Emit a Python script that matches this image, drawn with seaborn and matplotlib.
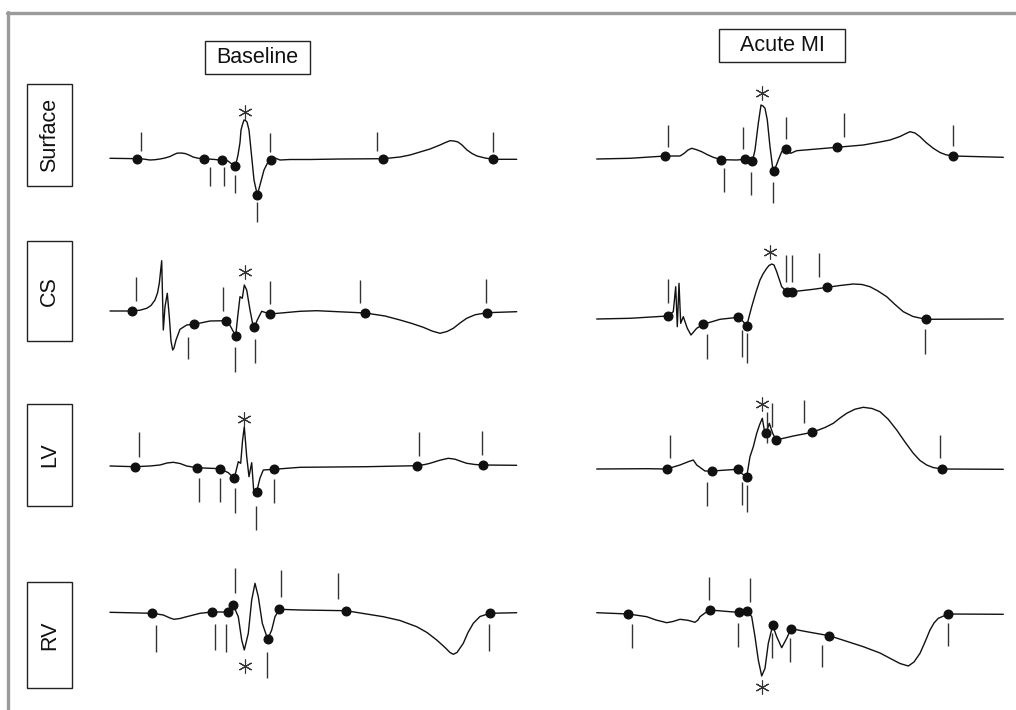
import numpy as np
import pandas as pd
import matplotlib
matplotlib.use("Agg")
import matplotlib.pyplot as plt
import seaborn as sns
from matplotlib.patches import Rectangle
from matplotlib.lines import Line2D

# Column / row labels
conditions = ["Baseline", "Acute MI"]
leads = ["Surface", "CS", "LV", "RV"]

# ---- traces: time and amplitude ----
# Surface, baseline
surf_base_t = [10, 25, 36.7, 43, 50, 55, 60, 65, 70, 74, 77, 81, 85, 89, 93, 98, 104, 115, 122, 128, 134.7,
               136.5, 138, 140, 141, 142.5, 144, 145.5, 147, 149, 151, 154, 157.3, 160, 164, 168, 170.7,
               175, 180, 190, 210, 240, 283.3, 300, 310, 320, 330, 340, 345, 350, 354, 358, 362, 367, 372,
               377, 385, 393.3, 416.7]
surf_base_v = [0.2, 0, -0.2, -0.5, -1.5, -1.2, -0.5, 0.5, 2, 4, 5.3, 5.5, 5, 3.5, 1.5, 0.3, -0.2, -1, -1.8,
               -2.5, -7.8, -3, 3.5, 16, 28.5, 34, 38.5, 38, 36.5, 28.5, 8.5, -21.5, -36.5, -26.5, -11.5,
               -3.5, -1.5, 0.5, -1.5, -1, -1, -0.5, -0.2, 1.5, 3.5, 6.5, 9.5, 13.5, 15.8, 17.8, 17.5, 16.5,
               13.5, 8.5, 5, 2.5, 0.5, -0.8, -0.8]
surf_base_dots = [36.7, 104, 122, 134.7, 157.3, 170.7, 283.3, 393.3]
surf_base_tick_t = [40.7, 110, 124, 134.7, 157.3, 170, 277.3, 392.7]
surf_base_tick_lo = [7.8, -8.5, -8.5, -16.5, -43.2, 6.8, 7.8, 6.8]
surf_base_tick_hi = [26.8, -27.5, -27.5, -34.5, -63.2, 25.8, 26.2, 26.2]
surf_base_star = (145, 46.2)

# Surface, acute MI
surf_mi_t = [16.7, 50, 85.3, 100, 104, 108, 111.7, 116, 121.7, 127, 133.3, 141, 156.7, 165, 171.7, 173.5,
             175, 178.3, 181, 183, 185, 187.3, 190, 192.7, 194.3, 198.3, 201.7, 206, 210.7, 216.7, 233.3,
             256.7, 283.3, 300, 310, 320, 325, 330, 335, 340, 346, 353.3, 360, 366, 373.3, 400, 423.3]
surf_mi_v = [-1, -0.3, 2, 2, 4.5, 8, 9.7, 8.5, 6.3, 3.5, 0.7, -1.7, -2, -1.3, -3, 1.5, 8, 34.7, 53, 52,
             49.7, 38, 11.3, -10.3, -12.7, -2, 6.3, 8.7, 4.7, 7.3, 8.7, 10.7, 13, 16, 18, 21.5, 24, 26.3,
             25, 21.3, 15.5, 9.7, 5.5, 3.2, 2, 1.3, 0.7]
surf_mi_dots = [85.3, 141, 165, 171.7, 194.3, 206, 256.7, 373.3]
surf_mi_tick_t = [88.3, 144.3, 163.3, 171, 192.7, 205.7, 264, 373.3]
surf_mi_tick_lo = [11.3, -10.3, 9, -13.7, -23.7, 18.7, 21.3, 12]
surf_mi_tick_hi = [33, -33.7, 31.3, -37, -45.3, 41.3, 44.7, 33]
surf_mi_star = (181.7, 64.7)

# CS, baseline
cs_base_t = [10, 32.3, 40, 46.7, 51, 55, 57.5, 59.3, 61.7, 63.3, 65, 67.3, 69.3, 71, 72.7, 74, 76, 80, 86.7,
             94.3, 110, 126, 128.5, 130.7, 133, 135.7, 137.7, 140, 142.3, 144.3, 146.7, 150, 152.5, 154.3,
             157.3, 161.7, 170, 200, 216.7, 265.3, 285, 300, 312, 323.3, 332, 340, 347, 353.3, 360, 366.7,
             375, 386.7, 416.7]
cs_base_v = [0, 0, 0.8, 2.7, 5.5, 11, 18, 27.7, 50.3, -19, 4.3, 17.7, -5.7, -30, -39, -37, -29, -18.3, -14,
             -13.3, -10, -9.7, -12, -15.7, -20, -24.7, -5.7, 14.3, 12.7, 26, 21, 1, -12, -16.3, -9, -0.3,
             -3, -0.3, 0.3, -2, -5, -9, -12.5, -16.3, -20, -22.3, -20.5, -17.3, -12, -7.3, -3.8, -1.7,
             -0.7]
cs_base_dots = [32.3, 94.3, 126, 135.7, 154.3, 170, 265.3, 386.7]
cs_base_tick_t = [36, 87.7, 122.7, 135.3, 154.7, 169.7, 260, 386]
cs_base_tick_lo = [10, -25.7, 0.3, -35.7, -28.3, 6.7, 7.7, 8.3]
cs_base_tick_hi = [33.7, -48.3, 23.7, -60.7, -51.7, 30.3, 31, 31.7]
cs_base_star = (145, 38.7)

# CS, acute MI
cs_mi_t = [16.7, 50, 87.7, 93.3, 95.7, 97.3, 99, 100.7, 103.3, 107.3, 111, 116.7, 123.3, 140, 158.3, 163.3,
           166.7, 169, 171.7, 176, 180, 183, 186.7, 189, 191.7, 194, 196.7, 201.7, 206.7, 212.3, 233.3,
           247.3, 260, 273.3, 282, 290, 298, 306.7, 315, 323.3, 333, 345.7, 423.3]
cs_mi_v = [0, 0.7, 3, 7.3, 32.3, -7.7, 35.7, -4.3, 2.3, -9.3, -16, -9.3, -5.3, -0.3, 1.7, -2.7, -7, 2, 12.3,
           27, 39, 45, 50.7, 53.5, 55, 54, 47.3, 32.3, 27.3, 27.3, 29.7, 31.7, 33.5, 35, 34.5, 32.3, 28,
           22.3, 14.5, 7.3, 2.5, -0.3, 0]
cs_mi_dots = [87.7, 123.3, 158.3, 166.7, 206.7, 212.3, 247.3, 345.7]
cs_mi_tick_t = [87.7, 127, 162.3, 166.7, 205.7, 211.7, 239.3, 345]
cs_mi_tick_lo = [15.7, -15.3, -11, -14.3, 37.3, 37.3, 42.3, -10.3]
cs_mi_tick_hi = [39.7, -40, -37.7, -43.7, 64, 64, 65.7, -35]
cs_mi_star = (190, 66.7)

# LV, baseline
lv_base_t = [10, 35, 50, 60, 67, 73.3, 80, 86.7, 96.7, 120, 128.3, 134.3, 138.3, 140.7, 142.5, 144.3, 146.7,
             149, 151.7, 154, 156.7, 160, 163.3, 174, 200, 266.7, 316.7, 325, 330, 340, 348.3, 355, 360,
             366.7, 375, 383.3, 416.7]
lv_base_v = [0, -0.7, 0, 1, 3, 3.7, 2.5, 0, -1.7, -2.7, -6.7, -12.3, 4.3, 2.7, 25, 39.3, 9.3, -10.7, 3.3,
             -29, -25.7, -12, -4, -3.3, -1.3, -0.7, 0.3, 1.5, 2.7, 5.8, 7.7, 6.8, 5, 2.7, 1.5, 1, 0.7]
lv_base_dots = [35, 96.7, 120, 134.3, 156.7, 174, 316.7, 383.3]
lv_base_tick_t = [39, 99.3, 120, 134.7, 156, 174, 319.3, 382.3]
lv_base_tick_lo = [9.3, -11.7, -11.7, -22.3, -40, -13, 10, 11]
lv_base_tick_hi = [33.7, -36.3, -36.3, -46.7, -64, -37.3, 34.3, 35.3]
lv_base_star = (144.3, 47)

# LV, acute MI
lv_mi_t = [16.7, 66.7, 86.7, 100, 108.3, 113.3, 116.7, 125, 132.3, 146.7, 157.7, 162.3, 166.7, 170, 173.3,
           176.7, 179.5, 182.3, 184.3, 186, 189.3, 192.7, 196, 213.3, 232.3, 245, 253.3, 260, 266.7, 275,
           283.3, 292, 300, 308, 316.7, 325, 333.3, 340, 346.7, 353, 361.7, 423.3]
lv_mi_v = [0, 0.3, 0, 4, 7.3, 9, 4, -2, -2, -1, -0.3, -5, -7.7, 12.3, 22.3, 35.7, 44, 50.7, 39, 35.7, 45.7,
           35.7, 29, 33, 36.7, 41.5, 45.7, 51, 55.7, 59.8, 61.7, 60.5, 57.3, 50, 39, 27, 15.7, 8.5, 4, 1.5,
           0, -0.3]
lv_mi_dots = [86.7, 132.3, 157.7, 166.7, 186, 196, 232.3, 361.7]
lv_mi_tick_t = [90, 127, 161.7, 167.3, 186.7, 192.3, 224, 360]
lv_mi_tick_lo = [10.7, -12.7, -12.7, -16, 25.7, 42.3, 45.7, 10.7]
lv_mi_tick_hi = [34, -37, -36, -42.7, 57.3, 65.7, 69, 34]
lv_mi_star = (181.7, 64.7)

# RV, baseline
rv_base_t = [10, 52.3, 63.3, 70, 74, 80, 86.7, 100, 111.7, 127.7, 133.3, 138.3, 141.7, 144.3, 148.3, 151.7,
             155, 158.3, 162.3, 167.7, 171.7, 175, 179.3, 200, 246, 283.3, 300, 316.7, 327, 336.7, 345, 350,
             353.3, 357, 363.3, 368, 373.3, 380, 390, 416.7]
rv_base_v = [0.2, -0.8, -2.5, -5.5, -6.8, -6, -4.2, -0.8, 0.5, 0.5, 7.2, -4.2, -27.5, -37.5, -20.8, 12.5,
             29.2, 15.8, -10.8, -26.8, -17.5, -4.2, 3.2, 2.5, 1.8, -4.2, -8, -14.2, -20, -27.5, -35, -40,
             -41.8, -40, -30.8, -20, -10.8, -4, -0.8, -0.2]
rv_base_dots = [52.3, 111.7, 127.7, 133.3, 167.7, 179.3, 246, 390]
rv_base_tick_t = [55.7, 115, 126.3, 135.3, 166.7, 181, 237.7, 389]
rv_base_tick_lo = [-12.5, -11.5, -11.5, 19.2, -39.2, 15.2, 13.2, -11.5]
rv_base_tick_hi = [-39.2, -37.5, -39.2, 44.2, -65.8, 42.5, 39.8, -38.5]
rv_base_star = (145, -53.5)

# RV, acute MI
rv_mi_t = [16.7, 48.3, 66.7, 76, 86.7, 93, 100, 108, 115, 118, 120, 125, 130, 150, 159.3, 167.3, 171.7, 175,
           178.3, 181.7, 185, 188.3, 192.7, 196.7, 201.7, 206.7, 211, 226.7, 249.3, 283.3, 300, 310, 320,
           328.3, 334, 340, 345, 350, 354, 358.3, 368.3, 423.3]
rv_mi_v = [0.3, -1, -3.7, -7, -9.7, -8.5, -6.3, -7.3, -9.3, -7, -3.7, 0, 3, 1.3, 0.7, 2.3, -3.7, -23.7, -47,
           -63, -55.3, -30.3, -12.3, -23.7, -34.7, -25.3, -15.7, -18.7, -22.7, -33.7, -40, -45.3, -50.5,
           -53, -49, -40.3, -29, -17, -10, -5.3, -1, -1.3]
rv_mi_dots = [48.3, 130, 159.3, 167.3, 192.7, 211, 249.3, 368.3]
rv_mi_tick_t = [51.7, 129.3, 158.3, 170, 192.3, 210, 241.7, 368.3]
rv_mi_tick_lo = [-11, 13, -9.7, 11.3, -20.3, -25.3, -32, -10.3]
rv_mi_tick_hi = [-34.7, 35.7, -33.7, 34.7, -45.3, -48.7, -54.3, -33]
rv_mi_star = (181.7, -74.3)

panels = {
    ("Surface", "Baseline"): (surf_base_t, surf_base_v, surf_base_dots, surf_base_tick_t, surf_base_tick_lo, surf_base_tick_hi, surf_base_star),
    ("Surface", "Acute MI"): (surf_mi_t, surf_mi_v, surf_mi_dots, surf_mi_tick_t, surf_mi_tick_lo, surf_mi_tick_hi, surf_mi_star),
    ("CS", "Baseline"): (cs_base_t, cs_base_v, cs_base_dots, cs_base_tick_t, cs_base_tick_lo, cs_base_tick_hi, cs_base_star),
    ("CS", "Acute MI"): (cs_mi_t, cs_mi_v, cs_mi_dots, cs_mi_tick_t, cs_mi_tick_lo, cs_mi_tick_hi, cs_mi_star),
    ("LV", "Baseline"): (lv_base_t, lv_base_v, lv_base_dots, lv_base_tick_t, lv_base_tick_lo, lv_base_tick_hi, lv_base_star),
    ("LV", "Acute MI"): (lv_mi_t, lv_mi_v, lv_mi_dots, lv_mi_tick_t, lv_mi_tick_lo, lv_mi_tick_hi, lv_mi_star),
    ("RV", "Baseline"): (rv_base_t, rv_base_v, rv_base_dots, rv_base_tick_t, rv_base_tick_lo, rv_base_tick_hi, rv_base_star),
    ("RV", "Acute MI"): (rv_mi_t, rv_mi_v, rv_mi_dots, rv_mi_tick_t, rv_mi_tick_lo, rv_mi_tick_hi, rv_mi_star),
}

sns.set_theme(style="white")
plt.rcParams['font.family'] = ['Liberation Sans', 'DejaVu Sans']

W, H = 1016, 710
fig = plt.figure(figsize=(W / 100, H / 100), dpi=100)
fig.patch.set_facecolor('white')

# layout (pixels)
col_x0 = {"Baseline": 100, "Acute MI": 580}
row_base = {("Surface", "Baseline"): 158.5, ("Surface", "Acute MI"): 158,
            ("CS", "Baseline"): 311, ("CS", "Acute MI"): 319,
            ("LV", "Baseline"): 466, ("LV", "Acute MI"): 469,
            ("RV", "Baseline"): 612.5, ("RV", "Acute MI"): 613}
AW, AH = 436, 180

for (lead, cond), (t, v, dots, tk_t, tk_lo, tk_hi, star) in panels.items():
    x0 = col_x0[cond]
    base = row_base[(lead, cond)]
    ax = fig.add_axes([x0 / W, (H - base - AH / 2) / H, AW / W, AH / H])
    ax.set_xlim(0, AW)
    ax.set_ylim(-AH / 2, AH / 2)
    ax.axis('off')
    ax.patch.set_alpha(0)

    df = pd.DataFrame({"t": t, "v": v})
    sns.lineplot(data=df, x="t", y="v", ax=ax, color="#111111", lw=1.0, sort=False, estimator=None)
    ax.vlines(tk_t, tk_lo, tk_hi, color="#333333", lw=1.0)
    dv = np.interp(dots, t, v)
    ax.plot(dots, dv, 'o', color="#111111", ms=6.2, mec="#111111", zorder=5)
    ax.plot([star[0]], [star[1]], marker=(6, 2, 0), color="#333333", ms=10, mew=0.8, ls='none')


def px_rect(x0, y0, x1, y1):
    return Rectangle((x0 / W, 1 - y1 / H), (x1 - x0) / W, (y1 - y0) / H, transform=fig.transFigure,
                     fill=False, edgecolor="#222222", lw=1.0)


# column header boxes
col_boxes = {"Baseline": (205, 41, 310, 74), "Acute MI": (719, 29, 845, 62)}
for cond in conditions:
    x0, y0, x1, y1 = col_boxes[cond]
    fig.add_artist(px_rect(x0, y0, x1, y1))
    fig.text((x0 + x1) / 2 / W, 1 - (y0 + y1) / 2 / H, cond, ha='center', va='center', fontsize=15.5,
             color="#111111")

# row label boxes
row_boxes = {"Surface": (84, 186), "CS": (241, 341), "LV": (404, 506), "RV": (582, 688)}
for lead in leads:
    y0, y1 = row_boxes[lead]
    fig.add_artist(px_rect(27, y0, 72, y1))
    fig.text(49.5 / W, 1 - (y0 + y1) / 2 / H, lead, ha='center', va='center', rotation=90, fontsize=15.5,
             color="#111111")

# grey frame on top and left
fig.add_artist(Line2D([7 / W, 1], [1 - 13 / H, 1 - 13 / H], color="#9a9a9a", lw=2.4, transform=fig.transFigure))
fig.add_artist(Line2D([8 / W, 8 / W], [0, 1 - 12 / H], color="#9a9a9a", lw=2.4, transform=fig.transFigure))

fig.savefig("out.png", dpi=100)
